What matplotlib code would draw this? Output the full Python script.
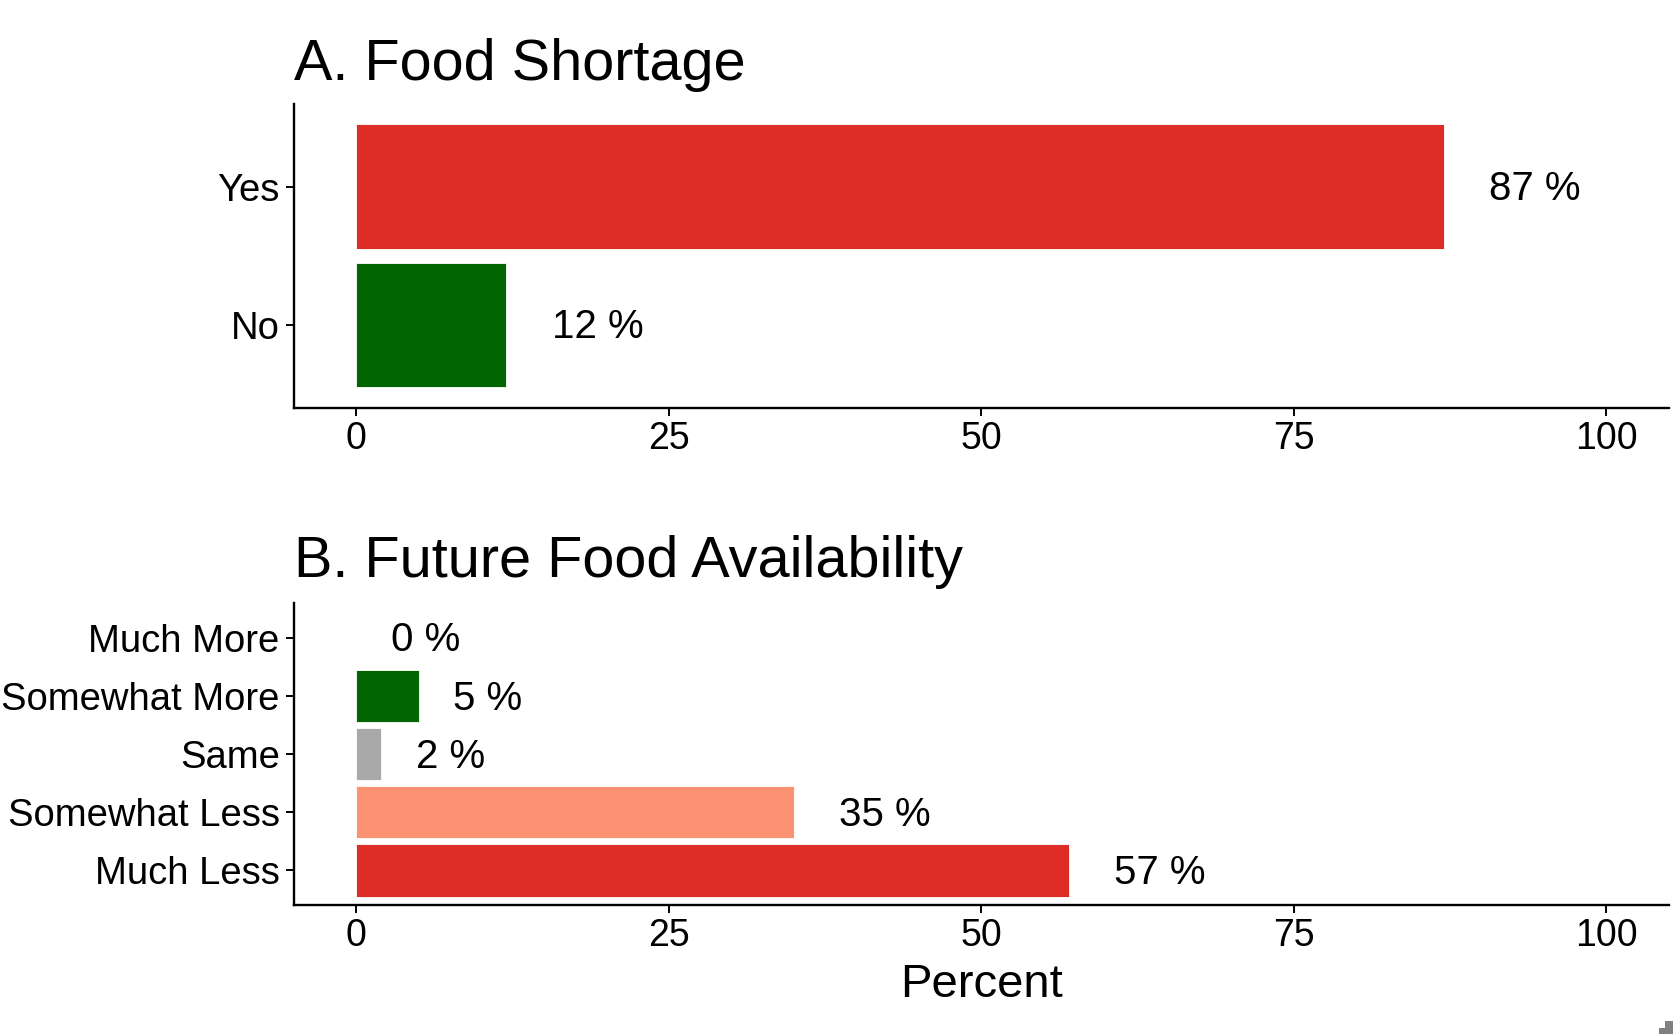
import matplotlib
matplotlib.use('Agg')
import matplotlib.pyplot as plt
import matplotlib.patches as patches

plt.rcParams['font.family'] = ['Liberation Sans', 'DejaVu Sans']

# Painel A - escassez de alimentos
cat_a = ['No', 'Yes']
val_a = [12, 87]
cor_a = ['#006400', '#DE2D26']

# Painel B - disponibilidade futura
cat_b = ['Much Less', 'Somewhat Less', 'Same', 'Somewhat More', 'Much More']
val_b = [57, 35, 2, 5, 0]
cor_b = ['#DE2D26', '#FC9272', '#A9A9A9', '#006400', '#006400']

ticks_x = [0, 25, 50, 75, 100]

fig = plt.figure(figsize=(16.74, 10.34), dpi=100)
ax_a = fig.add_axes([0.1754, 0.6056, 0.8214, 0.2942])
ax_b = fig.add_axes([0.1754, 0.1245, 0.8214, 0.2922])


def estilo(ax, cats):
    ax.set_xlim(-5, 105)
    ax.set_ylim(0.4, len(cats) + 0.6)
    ax.set_yticks(range(1, len(cats) + 1))
    ax.set_yticklabels(cats)
    ax.set_xticks(ticks_x)
    for s in ['top', 'right']:
        ax.spines[s].set_visible(False)
    for s in ['left', 'bottom']:
        ax.spines[s].set_linewidth(1.7)
        ax.spines[s].set_color('black')
    ax.tick_params(axis='both', length=5.5, width=1.4, color='black',
                   labelcolor='black')
    ax.tick_params(axis='x', pad=4, labelsize=27)
    ax.tick_params(axis='y', pad=4.5, labelsize=27.5)


def barras(ax, cats, vals, cores):
    pos = list(range(1, len(cats) + 1))
    ax.barh(pos, vals, height=0.9, color=cores, edgecolor='white', linewidth=0.6)
    renderer = fig.canvas.get_renderer()
    for p, v in zip(pos, vals):
        t = ax.annotate(f'{v} %', xy=(v, p), xytext=(0, 0), textcoords='offset pixels',
                        ha='left', va='center', fontsize=29)
        w = t.get_window_extent(renderer).width
        t.xyann = (0.5 * w, -2.5)


estilo(ax_a, cat_a)
estilo(ax_b, cat_b)
barras(ax_a, cat_a, val_a, cor_a)
barras(ax_b, cat_b, val_b, cor_b)

fig.text(0.1754, 0.9226, 'A. Food Shortage', fontsize=41.5, va='baseline', ha='left')
fig.text(0.1754, 0.4424, 'B. Future Food Availability', fontsize=41.5, va='baseline', ha='left')
ax_b.text(0.5, -0.3035, 'Percent', transform=ax_b.transAxes, fontsize=34,
          ha='center', va='baseline')

# pequena marca cinza no canto inferior direito
fig.patches.append(patches.Polygon(
    [(1659, 0), (1659, 6), (1665, 6), (1665, 13), (1674, 13), (1674, 0)],
    closed=True, facecolor='#808080', edgecolor='none',
    transform=None))

fig.savefig('out.png', dpi=100)
